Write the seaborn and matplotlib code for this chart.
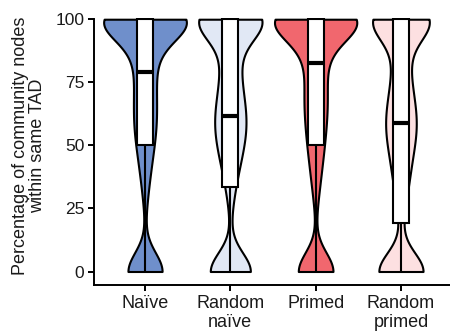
import numpy as np
import pandas as pd
import seaborn as sns
import matplotlib
matplotlib.use("Agg")
import matplotlib.pyplot as plt

# ---- data ----
categories = ["Naïve", "Random\nnaïve", "Primed", "Random\nprimed"]
colors = ["#6F8FCB", "#E1E8F5", "#F1676E", "#FDE0E1"]

# values (percentage) and how often each occurs, per group
levels = [0, 5, 10, 15, 20, 25, 30, 35, 40, 45, 50,
          55, 60, 65, 70, 75, 80, 85, 90, 95, 100]
naive_counts = [350, 0, 0, 0, 0, 7, 16, 22, 32, 40, 52,
                62, 68, 64, 62, 64, 52, 72, 84, 90, 720]
random_naive_counts = [410, 0, 0, 0, 2, 10, 20, 32, 46, 62, 78,
                       92, 96, 86, 72, 62, 54, 56, 52, 64, 560]
primed_counts = [370, 0, 0, 0, 0, 7, 18, 26, 34, 42, 52,
                 58, 64, 70, 70, 68, 50, 72, 100, 92, 740]
random_primed_counts = [460, 0, 0, 4, 10, 22, 36, 46, 52, 64, 76,
                        94, 96, 84, 70, 60, 48, 50, 48, 60, 510]

# box summaries
box_low = [0, 0, 0, 0]
box_q1 = [50, 33.5, 50, 19.3]
box_median = [78.9, 61.7, 82.5, 58.7]
box_q3 = [100, 100, 100, 100]
box_high = [100, 100, 100, 100]

y_ticks = [0, 25, 50, 75, 100]
y_label = "Percentage of community nodes\nwithin same TAD"

# ---- build tables ----
group_counts = [naive_counts, random_naive_counts, primed_counts, random_primed_counts]
rows = []
for cat, cnts in zip(categories, group_counts):
    vals = np.repeat(np.array(levels, dtype=float), cnts)
    rows.append(pd.DataFrame({"group": cat, "value": vals}))
violin_df = pd.concat(rows, ignore_index=True)

box_rows = []
for i, cat in enumerate(categories):
    for v in (box_low[i], box_q1[i], box_median[i], box_q3[i], box_high[i]):
        box_rows.append({"group": cat, "value": v})
box_df = pd.DataFrame(box_rows)

KDE_SD = 7.5
def bw_func(kde):
    return KDE_SD / np.std(kde.dataset, ddof=1)

# ---- plot ----
sns.set_style("ticks")
plt.rcParams["font.family"] = ["Liberation Sans", "DejaVu Sans"]

fig = plt.figure(figsize=(4.5, 3.36), dpi=100)
ax_left, ax_right = 94 / 450, 1.0
ax_bottom = (336 - 285) / 336
ax_top = (336 - 17.7) / 336
ax = fig.add_axes([ax_left, ax_bottom, ax_right - ax_left, ax_top - ax_bottom])

sns.violinplot(data=violin_df, x="group", y="value",
               order=categories, color="white",
               cut=0, inner=None, density_norm="area", common_norm=False,
               width=0.97, linewidth=1.5, linecolor="black",
               bw_method=bw_func, gridsize=250, saturation=1,
               ax=ax)
violin_polys = list(ax.collections)
for poly, col in zip(violin_polys, colors):
    poly.set_facecolor(col)

sns.boxplot(data=box_df, x="group", y="value", order=categories,
            color="white", linecolor="black", width=0.19, whis=(0, 100),
            showcaps=False, showfliers=False, linewidth=1.5, saturation=1,
            medianprops=dict(linewidth=3.0), ax=ax)

ax.set_xlim(-0.598, 3.575)
ax.set_ylim(-5.35, 100.6)
ax.set_yticks(y_ticks)
ax.set_yticklabels([str(t) for t in y_ticks])
ax.set_xlabel("")
ax.set_ylabel(y_label, fontsize=13, linespacing=1.05, color="#1a1a1a")
ax.yaxis.set_label_coords(-0.134, 0.52)

for s in ("top", "right"):
    ax.spines[s].set_visible(False)
for s in ("left", "bottom"):
    ax.spines[s].set_linewidth(1.4)
    ax.spines[s].set_color("black")
ax.spines["left"].set_bounds(-5.35, 100)

ax.tick_params(axis="both", direction="out", length=4, width=1.4,
               color="black", labelcolor="#1a1a1a", pad=3)
ax.tick_params(axis="x", labelsize=13)
ax.tick_params(axis="y", labelsize=12.5)

fig.savefig("out.png", dpi=100)
